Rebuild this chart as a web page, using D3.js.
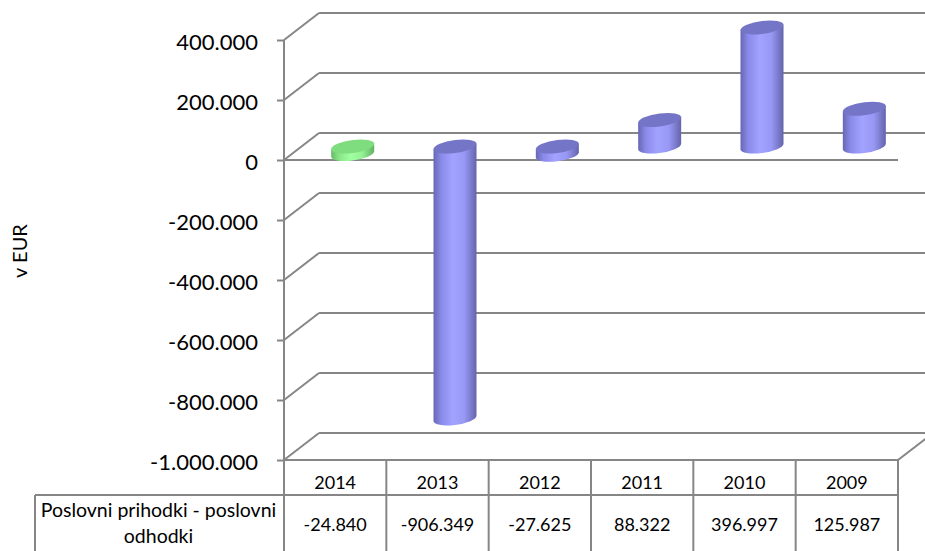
<!DOCTYPE html>
<html lang="sl">
<head>
<meta charset="UTF-8">
<title>Poslovni prihodki - poslovni odhodki</title>
<script src="https://d3js.org/d3.v7.min.js"></script>
<style>
    body { margin: 0; background: #fff; }
    svg text { font-family: Lato, "Open Sans", sans-serif; fill: #000; }
</style>
</head>
<body>
<div id="chart"></div>
<script>
    const years = ['2014', '2013', '2012', '2011', '2010', '2009']
    const values = [-24840, -906349, -27625, 88322, 396997, 125987]
    const yTicks = [400000, 200000, 0, -200000, -400000, -600000, -800000, -1000000]
    const rowLabel = ['Poslovni prihodki - poslovni', 'odhodki']
    const axisTitle = 'v EUR'

    const W = 925, H = 551
    const dx = 35, dy = -27   // depth of 3d box

    const loc = d3.formatLocale({ decimal: ',', thousands: '.', grouping: [3], currency: ['', ' €'], minus: '-' })
    const fmt = loc.format(',d')

    const svg = d3.select('#chart').append('svg')
        .attr('width', W).attr('height', H)

    const x = d3.scaleBand().domain(years).range([284, 898])
    const y = d3.scaleLinear().domain([-1000000, 400000]).range([460, 40])

    const defs = svg.append('defs')
    function grad(id, stops) {
        const g = defs.append('linearGradient').attr('id', id)
            .attr('x1', '0%').attr('x2', '100%').attr('y1', '0%').attr('y2', '0%')
        stops.forEach(s => g.append('stop').attr('offset', s[0]).attr('stop-color', s[1]))
    }
    grad('blue', [['0%', '#6767b4'], ['18%', '#8a8aea'], ['45%', '#a2a2ff'], ['72%', '#9797f4'], ['100%', '#6464ac']])
    grad('green', [['0%', '#66bb66'], ['18%', '#88e488'], ['45%', '#a0ffa0'], ['72%', '#94f294'], ['100%', '#62b062']])

    const grid = '#868686'
    const lines = svg.append('g').attr('stroke', grid).attr('stroke-width', 2).attr('fill', 'none')

    // back wall + side wall gridlines
    yTicks.forEach(t => {
        lines.append('line').attr('x1', 284 + dx).attr('x2', 898 + dx + 10)
            .attr('y1', y(t) + dy).attr('y2', y(t) + dy)
        lines.append('line').attr('x1', 284).attr('x2', 284 + dx)
            .attr('y1', y(t)).attr('y2', y(t) + dy)
    })
    // floor
    lines.append('line').attr('x1', 898).attr('x2', 898 + dx)
        .attr('y1', y(-1000000)).attr('y2', y(-1000000) + dy)

    // cylinders
    const rx = 21.5, ry = 6.5
    const bars = svg.append('g')
    values.forEach((v, i) => {
        const cx = x(years[i]) + x.bandwidth() / 2 + dx / 2
        const top = y(Math.max(v, 0)) + dy / 2
        const bot = y(Math.min(v, 0)) + dy / 2
        const col = i === 0 ? 'green' : 'blue'
        const g = bars.append('g').attr('transform', `translate(${cx},0) skewY(-7)`)
        g.append('path')
            .attr('d', `M${-rx},${top} L${-rx},${bot} A${rx},${ry} 0 0 0 ${rx},${bot} L${rx},${top} Z`)
            .attr('fill', `url(#${col})`)
        g.append('ellipse').attr('cx', 0).attr('cy', top).attr('rx', rx).attr('ry', ry)
            .attr('fill', i === 0 ? '#7fdc7f' : '#7575c8')
    })

    // zero line in front
    lines.append('line').attr('x1', 284).attr('x2', 898)
        .attr('y1', y(0)).attr('y2', y(0))

    // y axis
    const yAxis = d3.axisLeft(y).tickValues(yTicks).tickFormat(fmt)
        .tickSize(7).tickPadding(19)
    const ax = svg.append('g').attr('transform', 'translate(284,0)').call(yAxis)
    ax.select('.domain').attr('stroke', grid).attr('stroke-width', 2).attr('d', `M0,${y(400000)}V${y(-1000000)}`)
    ax.selectAll('.tick line').attr('stroke', grid).attr('stroke-width', 2)
    ax.selectAll('.tick text').attr('font-size', 22).attr('font-family', 'Lato, sans-serif')
        .attr('dy', '0.42em')

    svg.append('text').attr('transform', 'translate(27,251) rotate(-90)')
        .attr('text-anchor', 'middle').attr('font-size', 20).text(axisTitle)

    // data table
    const t = svg.append('g').attr('stroke', grid).attr('stroke-width', 2).attr('fill', 'none')
    const rowTop = y(-1000000), rowMid = 495
    t.append('line').attr('x1', 284).attr('x2', 898).attr('y1', rowTop).attr('y2', rowTop)
    t.append('line').attr('x1', 35).attr('x2', 898).attr('y1', rowMid).attr('y2', rowMid)
    t.append('line').attr('x1', 35).attr('x2', 35).attr('y1', rowMid).attr('y2', H)
    years.forEach(d => {
        t.append('line').attr('x1', x(d)).attr('x2', x(d)).attr('y1', rowTop).attr('y2', H)
    })
    t.append('line').attr('x1', 898).attr('x2', 898).attr('y1', rowTop).attr('y2', H)

    const tx = svg.append('g').attr('font-size', 18).attr('text-anchor', 'middle')
    years.forEach((d, i) => {
        tx.append('text').attr('x', x(d) + x.bandwidth() / 2).attr('y', 489).text(d)
        tx.append('text').attr('x', x(d) + x.bandwidth() / 2).attr('y', 531).text(fmt(values[i]))
    })
    rowLabel.forEach((s, i) => {
        tx.append('text').attr('x', 158.5).attr('y', 517 + i * 26)
            .attr('font-size', 19.5).text(s)
    })
</script>
</body>
</html>
